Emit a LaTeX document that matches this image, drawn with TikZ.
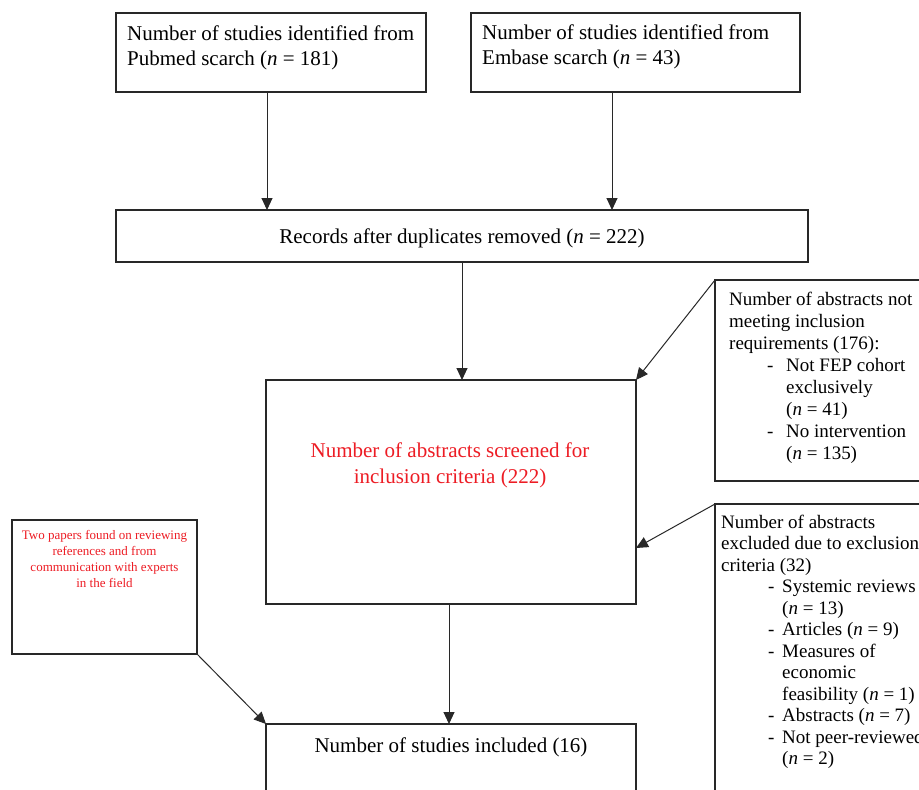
\documentclass[tikz,border=0pt]{standalone}
\usepackage{fontspec}
\setmainfont{Liberation Serif}
\usetikzlibrary{arrows.meta}
\definecolor{redtxt}{RGB}{237,28,36}
\definecolor{linec}{RGB}{40,40,40}
\newcommand{\nn}{\textit{n}}
\begin{document}
\begin{tikzpicture}[x=1pt,y=-1pt,
  box/.style={draw=linec, line width=1.2pt, rectangle, inner sep=0pt, outer sep=0pt, anchor=north west},
  arr/.style={draw=linec, line width=1pt, -{Triangle[length=12pt,width=11pt]}},
  big/.style={font=\fontsize{21}{25}\selectfont, inner sep=0pt},
  mid/.style={font=\fontsize{19}{22}\selectfont, inner sep=0pt, anchor=base west},
  mid2/.style={font=\fontsize{19}{21.5}\selectfont, inner sep=0pt, anchor=base west},
  small/.style={font=\fontsize{13}{15.7}\selectfont, inner sep=0pt}]
\useasboundingbox (0,0) rectangle (919,790);
\clip (0,0) rectangle (919,790);
\fill[white] (0,0) rectangle (919,790);
% boxes
\node[box, minimum width=310pt, minimum height=79pt] (pub) at (116,13) {};
\node[box, minimum width=329pt, minimum height=79pt] (emb) at (471,13) {};
\node[box, minimum width=692pt, minimum height=52pt] (rec) at (116,210) {};
\node[box, minimum width=370pt, minimum height=224pt] (scr) at (266,380) {};
\node[box, minimum width=370pt, minimum height=100pt] (inc) at (266,724) {};
\node[box, minimum width=185pt, minimum height=134pt] (two) at (12,520) {};
\node[box, minimum width=230pt, minimum height=201pt] (ex1) at (715,280) {};
\node[box, minimum width=230pt, minimum height=320pt] (ex2) at (715,504) {};
% texts (anchor base = baseline of last line)
\node[big, anchor=base west, align=left] (tpub) at (127,65) {Number of studies identified from\\Pubmed scarch (\nn{} = 181)};
\node[big, anchor=base west, align=left] (temb) at (482,64) {Number of studies identified from\\Embase scarch (\nn{} = 43)};
\node[big, anchor=base] (trec) at (462,243) {Records after duplicates removed (\nn{} = 222)};
\node[big, anchor=base, align=center, text=redtxt, font=\fontsize{21}{26}\selectfont] (tscr) at (450,483) {Number of abstracts screened for\\inclusion criteria (222)};
\node[big, anchor=base] (tinc) at (451,752) {Number of studies included (16)};
\node[small, anchor=base, align=center, text=redtxt] (ttwo) at (104.5,587) {Two papers found on reviewing\\references and from\\communication with experts\\in the field};
% right box 1
\node[mid, align=left] (h1) at (729,349) {Number of abstracts not\\meeting inclusion\\requirements (176):};
\node[mid] (d1a) at (767,371) {-};
\node[mid, align=left] (i1a) at (786,415) {Not FEP cohort\\exclusively\\(\nn{} = 41)};
\node[mid] (d1b) at (767,437) {-};
\node[mid, align=left] (i1b) at (786,459) {No intervention\\(\nn{} = 135)};
% right box 2
\node[mid2, align=left] (h2) at (721,571) {Number of abstracts\\excluded due to exclusion\\criteria (32)};
\node[mid2] (d2a) at (768,592.5) {-};
\node[mid2, align=left] (i2a) at (782,614) {Systemic reviews\\(\nn{} = 13)};
\node[mid2] (d2b) at (768,635.5) {-};
\node[mid2] (i2b) at (782,635.5) {Articles (\nn{} = 9)};
\node[mid2] (d2c) at (768,657) {-};
\node[mid2, align=left] (i2c) at (782,700) {Measures of\\economic\\feasibility (\nn{} = 1)};
\node[mid2] (d2d) at (768,721.5) {-};
\node[mid2] (i2d) at (782,721.5) {Abstracts (\nn{} = 7)};
\node[mid2] (d2e) at (768,743) {-};
\node[mid2, align=left] (i2e) at (782,764.5) {Not peer-reviewed\\(\nn{} = 2)};
% connectors
\coordinate (pa) at (267,0);
\coordinate (ea) at (612,0);
\coordinate (sa) at (449,0);
\coordinate (xa) at (0,548);
\draw[arr] (pub.south -| pa) -- (rec.north -| pa);
\draw[arr] (emb.south -| ea) -- (rec.north -| ea);
\draw[arr] (rec.south) -- (scr.north -| rec.south);
\draw[arr] (scr.south -| sa) -- (inc.north -| sa);
\draw[arr] (ex1.north west) -- (scr.north east);
\draw[arr] (ex2.north west) -- (scr.east |- xa);
\draw[arr] (two.south east) -- (inc.north west);
\end{tikzpicture}
\end{document}
